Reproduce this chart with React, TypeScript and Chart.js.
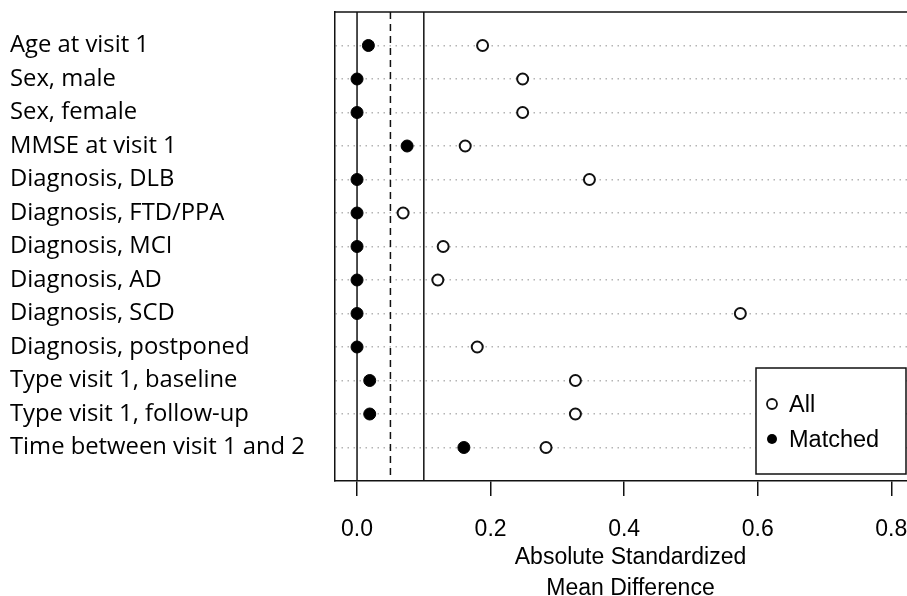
import React, { useEffect, useRef } from 'react';
import { Chart, registerables } from 'chart.js';

Chart.register(...registerables);

const covariates = [
  'Age at visit 1',
  'Sex, male',
  'Sex, female',
  'MMSE at visit 1',
  'Diagnosis, DLB',
  'Diagnosis, FTD/PPA',
  'Diagnosis, MCI',
  'Diagnosis, AD',
  'Diagnosis, SCD',
  'Diagnosis, postponed',
  'Type visit 1, baseline',
  'Type visit 1, follow-up',
  'Time between visit 1 and 2',
];
const allValues = [0.188, 0.248, 0.248, 0.162, 0.348, 0.069, 0.129, 0.121, 0.574, 0.18, 0.327, 0.327, 0.283];
const matchedValues = [0.017, 0, 0, 0.075, 0, 0, 0, 0, 0, 0, 0.019, 0.019, 0.16];
const xTicks = [0, 0.2, 0.4, 0.6, 0.8];
const xTickLabels = ['0.0', '0.2', '0.4', '0.6', '0.8'];
const refSolid = [0, 0.1];
const refDashed = [0.05];
const legendLabels = ['All', 'Matched'];
const xTitle = ['Absolute Standardized', 'Mean Difference'];

const CANVAS_W = 940;
const CANVAS_H = 610;
const AX = '#111';
const SANS = "'Liberation Sans', Arial, sans-serif";

const overlay = {
  id: 'overlay',
  beforeDatasetsDraw(chart: any) {
    const { ctx, chartArea, scales } = chart;
    const x = scales.x;
    ctx.save();
    ctx.strokeStyle = AX;
    ctx.lineWidth = 1.5;
    ctx.beginPath();
    ctx.moveTo(chartArea.left, chartArea.top);
    ctx.lineTo(chartArea.right, chartArea.top);
    ctx.stroke();
    refSolid.forEach((v) => {
      const px = x.getPixelForValue(v);
      ctx.beginPath();
      ctx.moveTo(px, chartArea.top);
      ctx.lineTo(px, chartArea.bottom);
      ctx.stroke();
    });
    ctx.setLineDash([7, 5]);
    refDashed.forEach((v) => {
      const px = x.getPixelForValue(v);
      ctx.beginPath();
      ctx.moveTo(px, chartArea.top);
      ctx.lineTo(px, chartArea.bottom);
      ctx.stroke();
    });
    ctx.restore();
  },
  afterDatasetsDraw(chart: any) {
    const { ctx, chartArea } = chart;
    const w = 150;
    const h = 106;
    const right = chartArea.right - 20;
    const bottom = chartArea.bottom - 7;
    const left = right - w;
    const top = bottom - h;
    ctx.save();
    ctx.fillStyle = '#fff';
    ctx.fillRect(left, top, w, h);
    ctx.strokeStyle = AX;
    ctx.lineWidth = 1.5;
    ctx.strokeRect(left, top, w, h);
    ctx.font = `23.5px ${SANS}`;
    ctx.textBaseline = 'middle';
    ctx.textAlign = 'left';
    legendLabels.forEach((lab, i) => {
      const cy = top + 36 + i * 35;
      const cx = left + 16;
      ctx.beginPath();
      ctx.arc(cx, cy, 5, 0, Math.PI * 2);
      if (i === 0) {
        ctx.fillStyle = '#fff';
        ctx.fill();
        ctx.lineWidth = 1.8;
        ctx.strokeStyle = AX;
        ctx.stroke();
      } else {
        ctx.fillStyle = '#000';
        ctx.fill();
      }
      ctx.fillStyle = '#000';
      ctx.fillText(lab, left + 33, cy + 2);
    });
    ctx.restore();
  },
};

export default function App() {
  const ref = useRef<HTMLCanvasElement>(null);
  useEffect(() => {
    const chart = new Chart(ref.current as HTMLCanvasElement, {
      type: 'scatter',
      data: {
        datasets: [
          {
            label: legendLabels[0],
            data: allValues.map((v, i) => ({ x: v, y: i + 1 })),
            backgroundColor: '#fff',
            borderColor: AX,
            borderWidth: 2,
            pointRadius: 5.5,
          },
          {
            label: legendLabels[1],
            data: matchedValues.map((v, i) => ({ x: v, y: i + 1 })),
            backgroundColor: '#000',
            borderColor: '#000',
            borderWidth: 1,
            pointRadius: 6,
          },
        ],
      },
      options: {
        animation: false,
        responsive: false,
        devicePixelRatio: 1,
        layout: { padding: { left: 10, top: 12, right: CANVAS_W - 926, bottom: 0 } },
        plugins: { legend: { display: false }, tooltip: { enabled: false } },
        scales: {
          x: {
            type: 'linear',
            min: -0.033,
            max: 0.852,
            afterBuildTicks: (s: any) => {
              s.ticks = xTicks.map((v) => ({ value: v }));
            },
            afterFit: (s: any) => {
              s.height = CANVAS_H - 481;
              s.paddingLeft = 0;
              s.paddingRight = 0;
            },
            ticks: {
              autoSkip: false,
              maxRotation: 0,
              padding: 20,
              color: '#000',
              font: { family: SANS, size: 23 },
              callback: (v: any) => xTickLabels[xTicks.indexOf(Number(v))] ?? '',
            },
            grid: {
              drawOnChartArea: false,
              drawTicks: true,
              tickLength: 15,
              color: AX,
              lineWidth: 1.5,
            },
            border: { display: true, color: AX, width: 1.5 },
            title: {
              display: true,
              text: xTitle,
              color: '#000',
              font: { family: SANS, size: 23, lineHeight: 31 / 23 },
              padding: { top: 0, bottom: 6 },
            },
          },
          y: {
            type: 'linear',
            min: 0,
            max: 14,
            reverse: true,
            afterBuildTicks: (s: any) => {
              s.ticks = covariates.map((_, i) => ({ value: i + 1 }));
            },
            afterFit: (s: any) => {
              s.width = 325;
              s.paddingTop = 0;
              s.paddingBottom = 0;
            },
            ticks: {
              autoSkip: false,
              crossAlign: 'far',
              color: '#000',
              font: { family: "'Open Sans', sans-serif", size: 23.8 },
              callback: (v: any) => covariates[Number(v) - 1] ?? '',
            },
            grid: {
              drawTicks: false,
              tickLength: 0,
              color: '#b4b4b4',
              lineWidth: 1.5,
            },
            border: { display: true, color: AX, width: 1.5, dash: [1.5, 4.5] },
          },
        },
      },
      plugins: [overlay],
    } as any);
    return () => chart.destroy();
  }, []);
  return (
    <div
      style={{
        position: 'fixed',
        left: 0,
        top: 0,
        width: 907,
        height: 596,
        overflow: 'hidden',
        background: '#fff',
      }}
    >
      <canvas
        ref={ref}
        width={CANVAS_W}
        height={CANVAS_H}
        style={{ display: 'block', width: CANVAS_W, height: CANVAS_H }}
      />
    </div>
  );
}
